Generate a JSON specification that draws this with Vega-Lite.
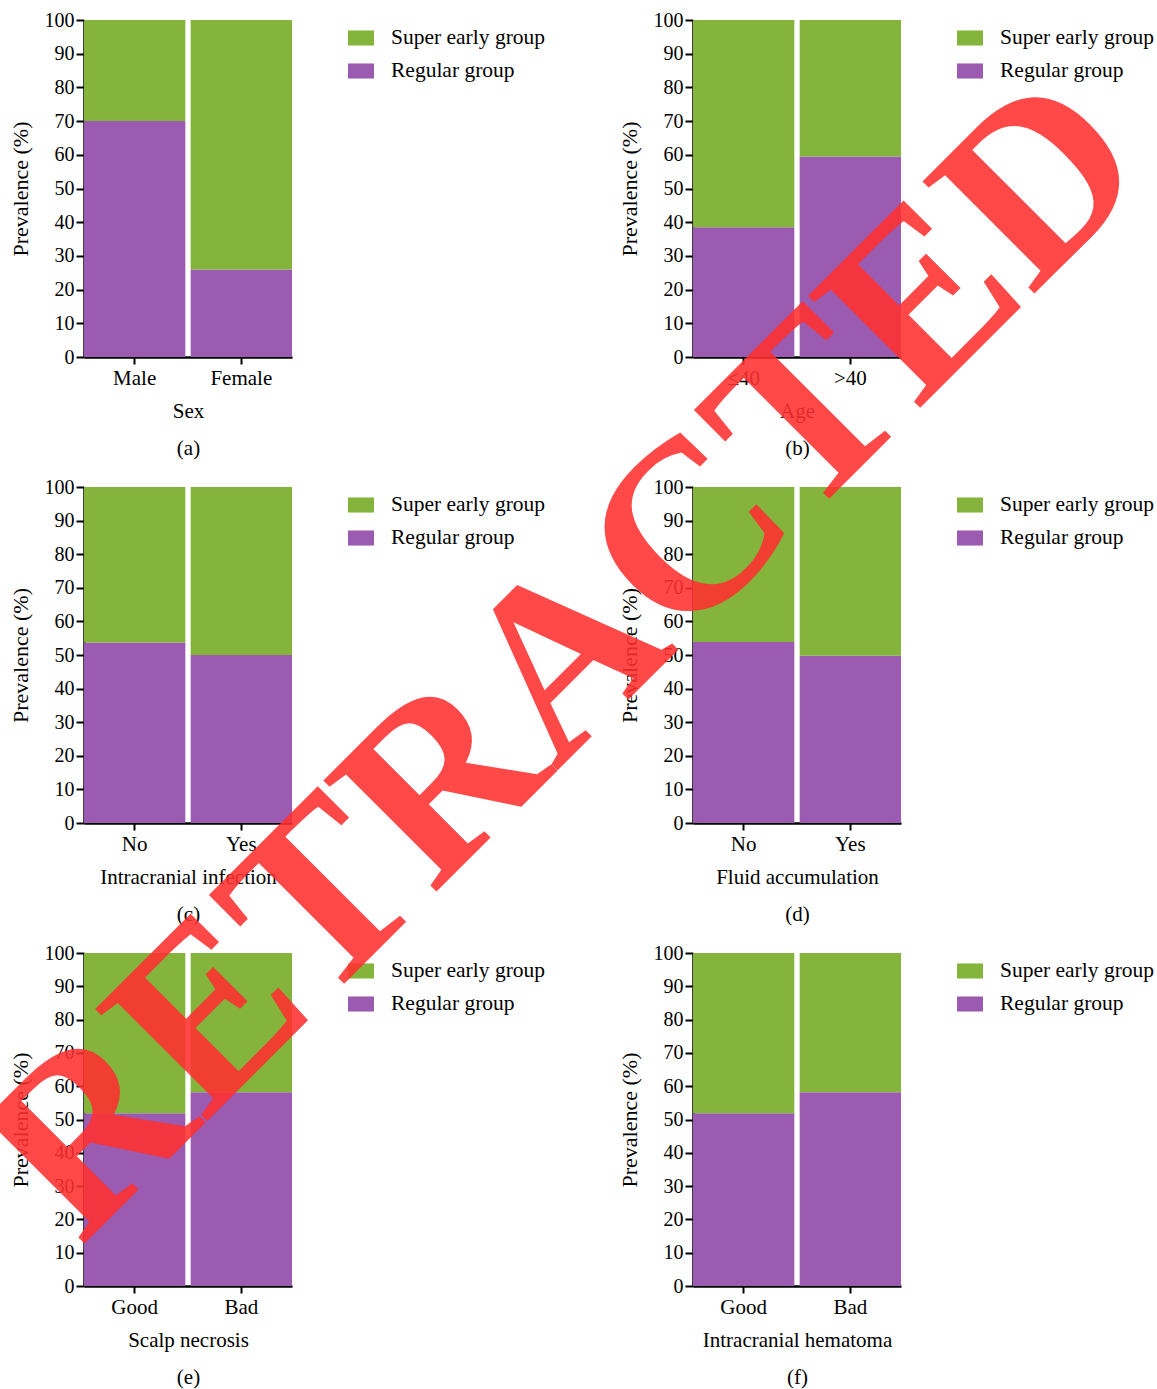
{
  "$schema": "https://vega.github.io/schema/vega-lite/v6.json",
  "autosize": {"type": "none"},
  "padding": {"left": 84, "top": 20, "right": 1073, "bottom": 1369},
  "background": "white",
  "datasets": {
    "rows": [
      {"panel": "a", "category": "Male", "group": "Regular group", "value": 70},
      {"panel": "a", "category": "Male", "group": "Super early group", "value": 30},
      {"panel": "a", "category": "Female", "group": "Regular group", "value": 26},
      {"panel": "a", "category": "Female", "group": "Super early group", "value": 74},
      {"panel": "b", "category": "≤40", "group": "Regular group", "value": 38.5},
      {"panel": "b", "category": "≤40", "group": "Super early group", "value": 61.5},
      {"panel": "b", "category": ">40", "group": "Regular group", "value": 59.5},
      {"panel": "b", "category": ">40", "group": "Super early group", "value": 40.5},
      {"panel": "c", "category": "No", "group": "Regular group", "value": 53.7},
      {"panel": "c", "category": "No", "group": "Super early group", "value": 46.3},
      {"panel": "c", "category": "Yes", "group": "Regular group", "value": 50},
      {"panel": "c", "category": "Yes", "group": "Super early group", "value": 50},
      {"panel": "d", "category": "No", "group": "Regular group", "value": 53.9},
      {"panel": "d", "category": "No", "group": "Super early group", "value": 46.1},
      {"panel": "d", "category": "Yes", "group": "Regular group", "value": 49.8},
      {"panel": "d", "category": "Yes", "group": "Super early group", "value": 50.2},
      {"panel": "e", "category": "Good", "group": "Regular group", "value": 51.9},
      {"panel": "e", "category": "Good", "group": "Super early group", "value": 48.1},
      {"panel": "e", "category": "Bad", "group": "Regular group", "value": 58.2},
      {"panel": "e", "category": "Bad", "group": "Super early group", "value": 41.8},
      {"panel": "f", "category": "Good", "group": "Regular group", "value": 51.9},
      {"panel": "f", "category": "Good", "group": "Super early group", "value": 48.1},
      {"panel": "f", "category": "Bad", "group": "Regular group", "value": 58.2},
      {"panel": "f", "category": "Bad", "group": "Super early group", "value": 41.8}
    ],
    "stamp": [{"label": "RETRACTED"}]
  },
  "columns": 2,
  "bounds": "flush",
  "spacing": {"row": 130, "column": 401},
  "resolve": {"scale": {"color": "independent"}, "legend": {"color": "independent"}},
  "concat": [
    {
      "width": 208, "height": 337,
      "data": {"name": "rows"},
      "transform": [{"filter": "datum.panel == 'a'"}],
      "mark": {"type": "bar"},
      "encoding": {
        "x": {"field": "category", "type": "nominal", "sort": ["Male", "Female"], "scale": {"paddingInner": 0.05, "paddingOuter": 0}, "axis": {"title": ["Sex", "(a)"]}},
        "y": {"field": "value", "type": "quantitative", "stack": "zero", "scale": {"domain": [0, 100]}, "axis": {"title": "Prevalence (%)", "values": [0, 10, 20, 30, 40, 50, 60, 70, 80, 90, 100]}},
        "color": {"field": "group", "type": "nominal", "scale": {"domain": ["Super early group", "Regular group"], "range": ["#84b43c", "#9a5bb0"]}},
        "order": {"field": "group", "sort": "ascending"}
      }
    },
    {
      "width": 208, "height": 337,
      "data": {"name": "rows"},
      "transform": [{"filter": "datum.panel == 'b'"}],
      "mark": {"type": "bar"},
      "encoding": {
        "x": {"field": "category", "type": "nominal", "sort": ["≤40", ">40"], "scale": {"paddingInner": 0.05, "paddingOuter": 0}, "axis": {"title": ["Age", "(b)"]}},
        "y": {"field": "value", "type": "quantitative", "stack": "zero", "scale": {"domain": [0, 100]}, "axis": {"title": "Prevalence (%)", "values": [0, 10, 20, 30, 40, 50, 60, 70, 80, 90, 100]}},
        "color": {"field": "group", "type": "nominal", "scale": {"domain": ["Super early group", "Regular group"], "range": ["#84b43c", "#9a5bb0"]}},
        "order": {"field": "group", "sort": "ascending"}
      }
    },
    {
      "width": 208, "height": 336,
      "data": {"name": "rows"},
      "transform": [{"filter": "datum.panel == 'c'"}],
      "mark": {"type": "bar"},
      "encoding": {
        "x": {"field": "category", "type": "nominal", "sort": ["No", "Yes"], "scale": {"paddingInner": 0.05, "paddingOuter": 0}, "axis": {"title": ["Intracranial infection", "(c)"]}},
        "y": {"field": "value", "type": "quantitative", "stack": "zero", "scale": {"domain": [0, 100]}, "axis": {"title": "Prevalence (%)", "values": [0, 10, 20, 30, 40, 50, 60, 70, 80, 90, 100]}},
        "color": {"field": "group", "type": "nominal", "scale": {"domain": ["Super early group", "Regular group"], "range": ["#84b43c", "#9a5bb0"]}},
        "order": {"field": "group", "sort": "ascending"}
      }
    },
    {
      "width": 208, "height": 336,
      "data": {"name": "rows"},
      "transform": [{"filter": "datum.panel == 'd'"}],
      "mark": {"type": "bar"},
      "encoding": {
        "x": {"field": "category", "type": "nominal", "sort": ["No", "Yes"], "scale": {"paddingInner": 0.05, "paddingOuter": 0}, "axis": {"title": ["Fluid accumulation", "(d)"]}},
        "y": {"field": "value", "type": "quantitative", "stack": "zero", "scale": {"domain": [0, 100]}, "axis": {"title": "Prevalence (%)", "values": [0, 10, 20, 30, 40, 50, 60, 70, 80, 90, 100]}},
        "color": {"field": "group", "type": "nominal", "scale": {"domain": ["Super early group", "Regular group"], "range": ["#84b43c", "#9a5bb0"]}},
        "order": {"field": "group", "sort": "ascending"}
      }
    },
    {
      "width": 208, "height": 333,
      "data": {"name": "rows"},
      "transform": [{"filter": "datum.panel == 'e'"}],
      "mark": {"type": "bar"},
      "encoding": {
        "x": {"field": "category", "type": "nominal", "sort": ["Good", "Bad"], "scale": {"paddingInner": 0.05, "paddingOuter": 0}, "axis": {"title": ["Scalp necrosis", "(e)"]}},
        "y": {"field": "value", "type": "quantitative", "stack": "zero", "scale": {"domain": [0, 100]}, "axis": {"title": "Prevalence (%)", "values": [0, 10, 20, 30, 40, 50, 60, 70, 80, 90, 100]}},
        "color": {"field": "group", "type": "nominal", "scale": {"domain": ["Super early group", "Regular group"], "range": ["#84b43c", "#9a5bb0"]}},
        "order": {"field": "group", "sort": "ascending"}
      }
    },
    {
      "width": 208, "height": 333,
      "layer": [
        {
          "data": {"name": "rows"},
          "transform": [{"filter": "datum.panel == 'f'"}],
          "mark": {"type": "bar"},
          "encoding": {
            "x": {"field": "category", "type": "nominal", "sort": ["Good", "Bad"], "scale": {"paddingInner": 0.05, "paddingOuter": 0}, "axis": {"title": ["Intracranial hematoma", "(f)"]}},
            "y": {"field": "value", "type": "quantitative", "stack": "zero", "scale": {"domain": [0, 100]}, "axis": {"title": "Prevalence (%)", "values": [0, 10, 20, 30, 40, 50, 60, 70, 80, 90, 100]}},
            "color": {"field": "group", "type": "nominal", "scale": {"domain": ["Super early group", "Regular group"], "range": ["#84b43c", "#9a5bb0"]}},
            "order": {"field": "group", "sort": "ascending"}
          }
        },
        {
          "data": {"name": "stamp"},
          "mark": {"type": "text", "angle": -45, "font": "Liberation Serif", "fontWeight": "bold", "fontSize": 242, "color": "#ff3030", "opacity": 0.88, "align": "center", "baseline": "middle", "dx": -251},
          "encoding": {
            "text": {"field": "label"},
            "x": {"datum": "Good", "type": "nominal"},
            "y": {"datum": 241.7, "type": "quantitative", "scale": {"domain": [0, 100]}, "axis": {"title": "Prevalence (%)", "values": [0, 10, 20, 30, 40, 50, 60, 70, 80, 90, 100]}}
          }
        }
      ]
    }
  ],
  "config": {
    "font": "Liberation Serif",
    "view": {"stroke": null},
    "axis": {
      "labelFont": "Liberation Serif", "titleFont": "Liberation Serif",
      "labelColor": "black", "titleColor": "black",
      "domainColor": "black", "tickColor": "black",
      "domainWidth": 2.5, "tickWidth": 2, "grid": false,
      "titleFontWeight": "normal", "labelFontSize": 20, "titleFontSize": 21
    },
    "axisX": {"labelAngle": 0, "tickSize": 7, "labelFontSize": 21, "labelPadding": 3, "titlePadding": 12, "titleLineHeight": 37},
    "axisY": {"tickSize": 8, "labelPadding": 2, "titlePadding": 12, "titleFontSize": 22},
    "legend": {
      "orient": "none", "legendX": 264, "legendY": 5, "title": null,
      "labelFont": "Liberation Serif", "labelFontSize": 21.5, "labelColor": "black",
      "symbolType": "M-1,-0.58H1V0.58H-1Z", "symbolSize": 676, "symbolStrokeWidth": 0,
      "symbolOpacity": 1, "labelOffset": 17, "rowPadding": 9, "padding": 0
    }
  }
}
